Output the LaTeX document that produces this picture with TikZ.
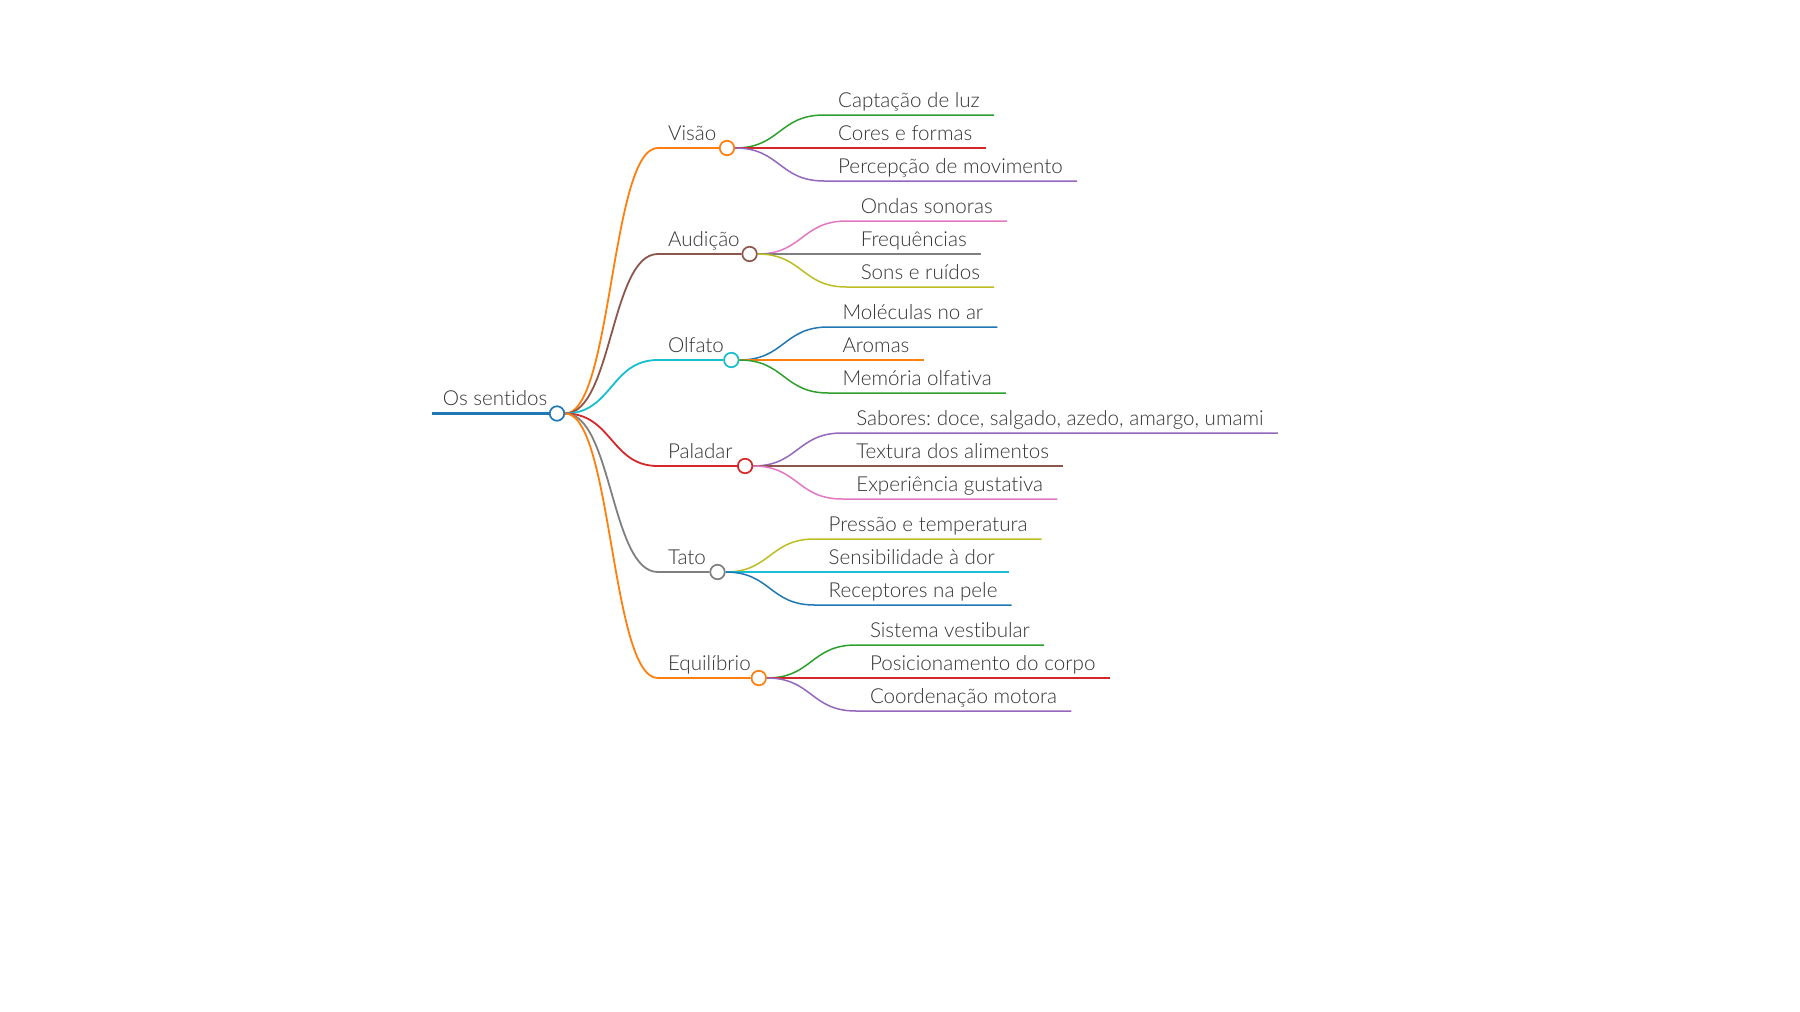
\documentclass[tikz,border=0pt]{standalone}
\usepackage{fontspec}
\IfFontExistsTF{Lato Light}{\setmainfont{Lato Light}[Ligatures=NoCommon]}{\setmainfont{Lato}[Ligatures=NoCommon]}
\usepackage{tikz}
\usetikzlibrary{positioning}
\frenchspacing

\definecolor{cBlue}{HTML}{1F77B4}
\definecolor{cOrange}{HTML}{FF7F0E}
\definecolor{cGreen}{HTML}{2CA02C}
\definecolor{cRed}{HTML}{D62728}
\definecolor{cPurple}{HTML}{9467BD}
\definecolor{cBrown}{HTML}{8C564B}
\definecolor{cPink}{HTML}{E377C2}
\definecolor{cGray}{HTML}{7F7F7F}
\definecolor{cOlive}{HTML}{BCBD22}
\definecolor{cCyan}{HTML}{17BECF}
\definecolor{txtgray}{HTML}{333333}

\pgfdeclarelayer{links}
\pgfsetlayers{links,main}

\begin{document}
\begin{tikzpicture}[x=1pt,y=-1pt,font=\fontsize{20.6}{24}\selectfont,
                    line cap=round]
  \tikzstyle{label}=[anchor=south west,text=txtgray,inner xsep=10pt,
                     inner ysep=7.5pt,text depth=0pt]
  \tikzstyle{leaf}=[label,inner xsep=14pt]
  \tikzstyle{knot}=[circle,draw,fill=white,line width=1.7pt,inner sep=0pt,
                    minimum size=14.5pt]
  \tikzstyle{trunk}=[line width=3.2pt,cBlue]
  \tikzstyle{branch}=[line width=1.8pt]
  \tikzstyle{twig}=[line width=1.5pt]

  \useasboundingbox (0,0) rectangle (1800,1012);

  % root
  \node[label,inner xsep=11pt] (root) at (431.7,413.5) {Os sentidos};
  \node[knot,draw=cBlue]       (k0)   at (557,413.5)   {};

  % senses
  \node[label] (visao)   at (657.8,148) {Visão};
  \node[label] (audicao) at (657.8,254) {Audição};
  \node[label] (olfato)  at (657.8,360) {Olfato};
  \node[label] (paladar) at (657.8,466) {Paladar};
  \node[label] (tato)    at (657.8,572) {Tato};
  \node[label] (equil)   at (657.8,678) {Equilíbrio};

  \node[knot,draw=cOrange] (k1) at (727,148)   {};
  \node[knot,draw=cBrown]  (k2) at (749.6,254) {};
  \node[knot,draw=cCyan]   (k3) at (731.3,360) {};
  \node[knot,draw=cRed]    (k4) at (745.1,466) {};
  \node[knot,draw=cGray]   (k5) at (717.5,572) {};
  \node[knot,draw=cOrange] (k6) at (758.8,678) {};

  % details
  \node[leaf] (v1) at (824,115) {Captação de luz};
  \node[leaf] (v2) at (824,148) {Cores e formas};
  \node[leaf] (v3) at (824,181) {Percepção de movimento};

  \node[leaf] (a1) at (846.6,221) {Ondas sonoras};
  \node[leaf] (a2) at (846.6,254) {Frequências};
  \node[leaf] (a3) at (846.6,287) {Sons e ruídos};

  \node[leaf] (o1) at (828.3,327) {Moléculas no ar};
  \node[leaf] (o2) at (828.3,360) {Aromas};
  \node[leaf] (o3) at (828.3,393) {Memória olfativa};

  \node[leaf] (p1) at (842.1,433) {Sabores: doce, salgado, azedo, amargo, umami};
  \node[leaf] (p2) at (842.1,466) {Textura dos alimentos};
  \node[leaf] (p3) at (842.1,499) {Experiência gustativa};

  \node[leaf] (t1) at (814.5,539) {Pressão e temperatura};
  \node[leaf] (t2) at (814.5,572) {Sensibilidade à dor};
  \node[leaf] (t3) at (814.5,605) {Receptores na pele};

  \node[leaf] (e1) at (855.8,645) {Sistema vestibular};
  \node[leaf] (e2) at (855.8,678) {Posicionamento do corpo};
  \node[leaf] (e3) at (855.8,711) {Coordenação motora};

  \begin{pgfonlayer}{links}
    \draw[trunk] (root.south west) -- (k0);

    \draw[branch,cOrange] (k0.east) .. controls +(47,0) and +(-47,0) .. (visao.south west) -- (k1);
    \draw[branch,cBrown]  (k0.east) .. controls +(47,0) and +(-47,0) .. (audicao.south west) -- (k2);
    \draw[branch,cCyan]   (k0.east) .. controls +(47,0) and +(-47,0) .. (olfato.south west) -- (k3);
    \draw[branch,cRed]    (k0.east) .. controls +(47,0) and +(-47,0) .. (paladar.south west) -- (k4);
    \draw[branch,cGray]   (k0.east) .. controls +(47,0) and +(-47,0) .. (tato.south west) -- (k5);
    \draw[branch,cOrange] (k0.east) .. controls +(47,0) and +(-47,0) .. (equil.south west) -- (k6);

    \draw[twig,cGreen]  (k1.east) .. controls +(45,0) and +(-45,0) .. (v1.south west) -- (v1.south east);
    \draw[twig,cRed]    (k1.east) -- (v2.south west) -- (v2.south east);
    \draw[twig,cPurple] (k1.east) .. controls +(45,0) and +(-45,0) .. (v3.south west) -- (v3.south east);

    \draw[twig,cPink]   (k2.east) .. controls +(45,0) and +(-45,0) .. (a1.south west) -- (a1.south east);
    \draw[twig,cGray]   (k2.east) -- (a2.south west) -- (a2.south east);
    \draw[twig,cOlive]  (k2.east) .. controls +(45,0) and +(-45,0) .. (a3.south west) -- (a3.south east);

    \draw[twig,cBlue]   (k3.east) .. controls +(45,0) and +(-45,0) .. (o1.south west) -- (o1.south east);
    \draw[twig,cOrange] (k3.east) -- (o2.south west) -- (o2.south east);
    \draw[twig,cGreen]  (k3.east) .. controls +(45,0) and +(-45,0) .. (o3.south west) -- (o3.south east);

    \draw[twig,cPurple] (k4.east) .. controls +(45,0) and +(-45,0) .. (p1.south west) -- (p1.south east);
    \draw[twig,cBrown]  (k4.east) -- (p2.south west) -- (p2.south east);
    \draw[twig,cPink]   (k4.east) .. controls +(45,0) and +(-45,0) .. (p3.south west) -- (p3.south east);

    \draw[twig,cOlive]  (k5.east) .. controls +(45,0) and +(-45,0) .. (t1.south west) -- (t1.south east);
    \draw[twig,cCyan]   (k5.east) -- (t2.south west) -- (t2.south east);
    \draw[twig,cBlue]   (k5.east) .. controls +(45,0) and +(-45,0) .. (t3.south west) -- (t3.south east);

    \draw[twig,cGreen]  (k6.east) .. controls +(45,0) and +(-45,0) .. (e1.south west) -- (e1.south east);
    \draw[twig,cRed]    (k6.east) -- (e2.south west) -- (e2.south east);
    \draw[twig,cPurple] (k6.east) .. controls +(45,0) and +(-45,0) .. (e3.south west) -- (e3.south east);
  \end{pgfonlayer}
\end{tikzpicture}
\end{document}
